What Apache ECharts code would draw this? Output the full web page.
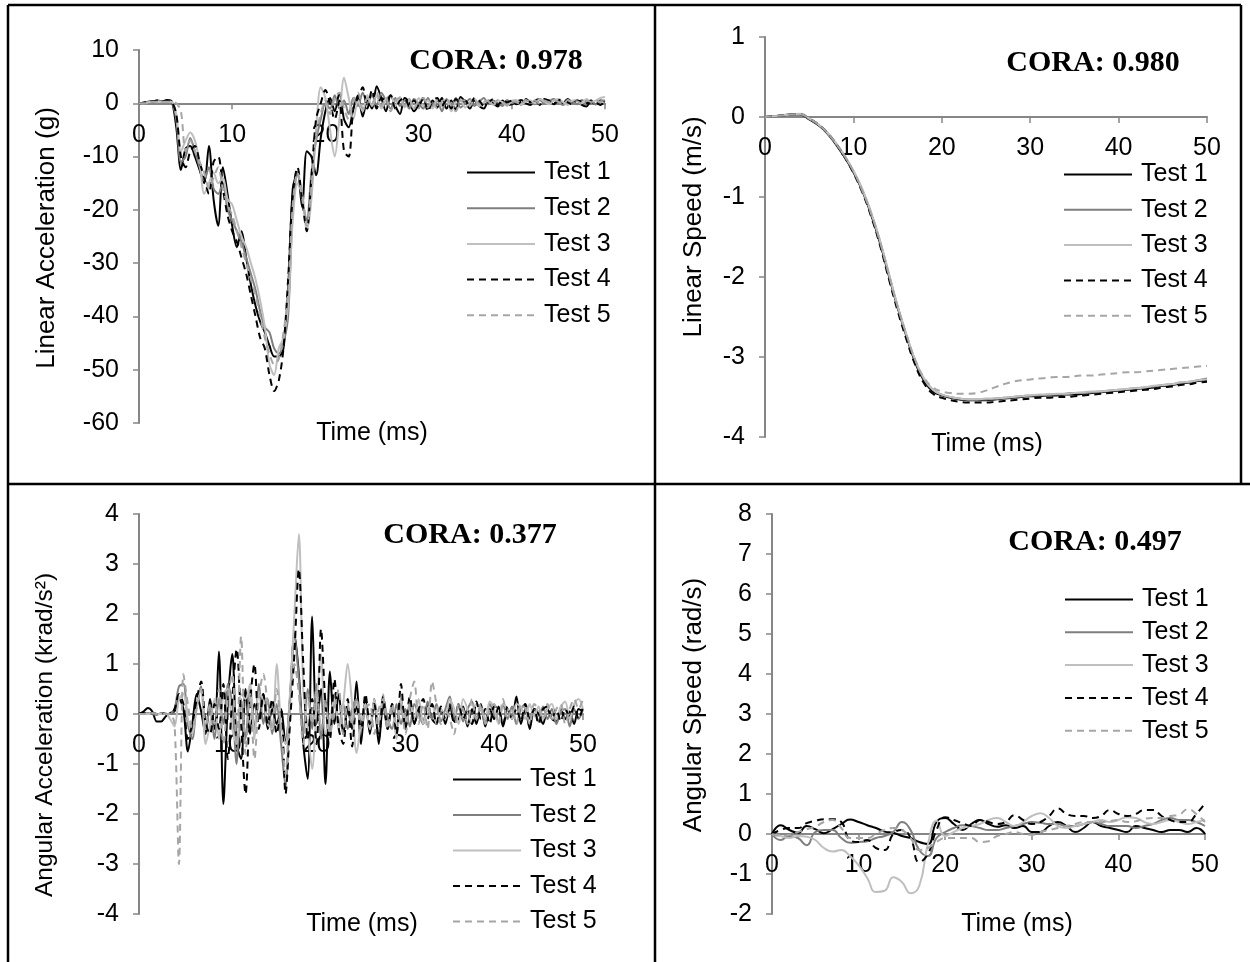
<!DOCTYPE html>
<html><head><meta charset="utf-8">
<script src="https://cdn.jsdelivr.net/npm/echarts@6/dist/echarts.min.js"></script>
<style>html,body{margin:0;padding:0;background:#fff}#c{width:1250px;height:962px}</style>
</head><body><div id="c"></div>
<script>
// ---------- data ----------
const SERIES_NAMES = ['Test 1', 'Test 2', 'Test 3', 'Test 4', 'Test 5'];
const X_TICKS = [0, 10, 20, 30, 40, 50];

// time axis, 0.5 ms step (accelerations)
const TIME_FINE = [
  0, 0.5, 1, 1.5, 2, 2.5, 3, 3.5, 4, 4.5,
  5, 5.5, 6, 6.5, 7, 7.5, 8, 8.5, 9, 9.5,
  10, 10.5, 11, 11.5, 12, 12.5, 13, 13.5, 14, 14.5,
  15, 15.5, 16, 16.5, 17, 17.5, 18, 18.5, 19, 19.5,
  20, 20.5, 21, 21.5, 22, 22.5, 23, 23.5, 24, 24.5,
  25, 25.5, 26, 26.5, 27, 27.5, 28, 28.5, 29, 29.5,
  30, 30.5, 31, 31.5, 32, 32.5, 33, 33.5, 34, 34.5,
  35, 35.5, 36, 36.5, 37, 37.5, 38, 38.5, 39, 39.5,
  40, 40.5, 41, 41.5, 42, 42.5, 43, 43.5, 44, 44.5,
  45, 45.5, 46, 46.5, 47, 47.5, 48, 48.5, 49, 49.5, 50
];
// time axis, 1 ms step (speeds)
const TIME_COARSE = [
  0, 1, 2, 3, 4, 5, 6, 7, 8, 9,
  10, 11, 12, 13, 14, 15, 16, 17, 18, 19,
  20, 21, 22, 23, 24, 25, 26, 27, 28, 29,
  30, 31, 32, 33, 34, 35, 36, 37, 38, 39,
  40, 41, 42, 43, 44, 45, 46, 47, 48, 49, 50
];

// Linear acceleration (g)
const LIN_ACC_T1 = [
  0, 0.1, 0.3, 0.4, 0.5, 0.4, 0.6, 0.4, -4.5, -12.5,
  -8.5, -8, -10, -12.5, -15, -8, -18, -23, -12, -17,
  -23, -27, -24, -29, -34, -38, -41, -43, -45.5, -47.5,
  -47.5, -46, -35, -16, -13, -19.5, -9, -10, -13.5, -6.5,
  -1.5, 1, -1.5, 2, -3, -4.5, -1, 1.5, -2.5, 0.5,
  -1, 3.2, 1, -1.5, 1.5, -0.5, -2, 1, 0.2, -1.5,
  -0.3, 1, -1, 0.5, -0.8, 1, -1, 0.5, -1.2, 1.2,
  0.3, -1, 0.5, -0.5, -1, 0.5, 0, -0.6, 0.5, -0.3,
  -0.2, 0.3, 0.6, 0, -0.3, 0.5, 0.8, 0.2, 0.5, -0.2,
  0.5, 0, 0.8, 0.2, 0.5, -0.3, -0.6, 0.3, -0.2, 0.5, 0.3
];
const LIN_ACC_T2 = [
  0, 0.1, 0.2, 0.3, 0.4, 0.3, 0.4, 0.2, -3, -11,
  -10, -6.5, -9, -12, -14.5, -12, -16, -17, -15, -20,
  -22, -24, -26, -29, -32, -35, -39, -42, -43, -46,
  -47, -45, -40, -20, -13, -18, -22, -13, -7, -3,
  0, -1, 1.5, -1, 0.5, -2, 1, -0.5, 2, 0,
  1.5, -0.5, 2, 0.5, -1, 1, -0.5, 0.5, -1, 0.8,
  0, -1, 1, -0.5, 0.5, -1.5, 0.8, -0.5, 1, -0.8,
  0, 0.8, -0.5, 0.3, 1, -0.2, 0.5, 0, -0.5, 0.6,
  0, 0.5, -0.3, 0.8, 0.2, -0.2, 0.6, 0, 0.4, 0.8,
  0.2, -0.3, 0.5, 0.3, -0.2, 0.6, 0.2, 0.5, -0.2, 0.4, 0.5
];
const LIN_ACC_T3 = [
  0, 0, 0.2, 0.3, 0.4, 0.3, 0.3, 0.3, -2, -9,
  -7, -5.5, -7, -11, -17, -15, -13, -15, -14, -18,
  -19, -22, -25, -27, -30, -33, -37, -42, -49, -51,
  -46, -44, -38, -22, -15, -17, -24, -18, -5, 3,
  1, -5, -10, -3, 4.8, 1, -3, 0.5, -1.5, 1.5,
  -0.5, 1.5, -1, 0.8, 1.5, -0.5, 1.2, -0.8, 0.5, -1,
  1, -0.5, 0.5, -1, 0.8, -0.5, 0.5, -1.5, 0.3, 0.5,
  -0.8, 0.3, 0.8, -0.5, 0.2, 0.5, -0.3, 0.5, 0.2, -0.5,
  0.4, 0.6, -0.2, 0.3, 0.5, 0, 0.8, 0.3, -0.2, 0.5,
  0.8, 0.2, -0.3, 0.5, 0.6, 0, 0.8, 0.3, 0.5, 1, 1.2
];
const LIN_ACC_T4 = [
  0, 0.1, 0.3, 0.4, 0.5, 0.4, 0.5, 0.3, -2, -10,
  -12, -9, -8, -11, -14, -17, -11, -10, -16, -21,
  -24, -26, -29, -32, -36, -40, -44, -46, -51, -54,
  -52, -46, -33, -17, -12, -18, -24, -14, -3, 0,
  2.5, 0, -3, 0.5, -9, -10, -1, 1, 3, -1,
  2.5, -1, 1, 0.5, 1.5, -1, 0.5, 1, -0.5, 0.5,
  -0.5, 1, -1.5, 0.5, 1, -0.5, 0.5, -1, 0.8, 0,
  0.5, -0.5, 1, 0.5, -0.5, 0.2, 0.8, -0.3, 0.5, 0.2,
  0.5, -0.2, 0.3, 0.8, 0.2, 0.5, -0.3, 0.8, 0.5, 0,
  0.5, 0.8, 0.2, -0.2, 0.5, 0.3, 0, 0.5, 0.2, -0.3, 0.4
];
const LIN_ACC_T5 = [
  0, 0, 0.2, 0.3, 0.3, 0.3, 0.3, 0.3, 0, -1.5,
  -9, -7, -9, -11, -13, -16, -14, -12, -16, -19,
  -21, -24, -27, -30, -33, -36, -40, -44, -47, -49,
  -48, -43, -36, -19, -13, -17, -23, -16, -6, -2,
  0.5, -2, 1, 2, -1, -3, 0.5, 2, -1, 1,
  0, 2, -0.5, 1, -1.5, 0.5, 1, -0.5, 0.8, -1,
  0.5, 1, -0.8, 0.5, -1, 0.3, 1, -0.5, -1.5, 0.5,
  0.5, -0.5, 0.8, -0.2, 0.5, 0.3, -0.5, 0.6, 0.2, -0.3,
  0.5, 0.2, -0.2, 0.6, 0.3, 0.5, -0.1, 0.5, 0.2, 0.6,
  0.3, -0.2, 0.6, 0.2, 0.4, -0.2, 0.5, 0.3, 0.6, 0.2, 0.8
];

// Linear speed (m/s)
const LIN_SPD_T1 = [
  0, 0.01, 0.02, 0.035, 0.03, -0.03, -0.1, -0.2, -0.34, -0.5,
  -0.69, -0.92, -1.22, -1.57, -1.98, -2.38, -2.74, -3.07, -3.3, -3.43,
  -3.48, -3.51, -3.53, -3.54, -3.54, -3.54, -3.53, -3.52, -3.51, -3.5,
  -3.49, -3.49, -3.48, -3.48, -3.47, -3.47, -3.46, -3.45, -3.44, -3.43,
  -3.42, -3.41, -3.4, -3.39, -3.38, -3.36, -3.35, -3.33, -3.32, -3.3, -3.29
];
const LIN_SPD_T2 = [
  0, 0.01, 0.02, 0.03, 0.03, -0.02, -0.09, -0.19, -0.33, -0.49,
  -0.68, -0.91, -1.2, -1.55, -1.96, -2.37, -2.73, -3.05, -3.28, -3.41,
  -3.47, -3.5, -3.52, -3.53, -3.53, -3.53, -3.52, -3.51, -3.5, -3.49,
  -3.48, -3.48, -3.47, -3.47, -3.46, -3.45, -3.45, -3.44, -3.43, -3.42,
  -3.41, -3.4, -3.39, -3.38, -3.37, -3.35, -3.34, -3.32, -3.31, -3.29, -3.27
];
const LIN_SPD_T3 = [
  0, 0.01, 0.02, 0.035, 0.04, -0.02, -0.09, -0.19, -0.32, -0.48,
  -0.67, -0.9, -1.19, -1.54, -1.95, -2.36, -2.72, -3.04, -3.27, -3.41,
  -3.47, -3.5, -3.52, -3.53, -3.53, -3.52, -3.52, -3.51, -3.5, -3.49,
  -3.48, -3.47, -3.47, -3.46, -3.46, -3.45, -3.44, -3.43, -3.43, -3.42,
  -3.41, -3.4, -3.39, -3.38, -3.36, -3.35, -3.34, -3.32, -3.31, -3.29, -3.28
];
const LIN_SPD_T4 = [
  0, 0.01, 0.02, 0.03, 0.03, -0.02, -0.09, -0.19, -0.33, -0.5,
  -0.7, -0.94, -1.24, -1.6, -2.02, -2.42, -2.78, -3.1, -3.33, -3.46,
  -3.51, -3.54, -3.56, -3.57, -3.57, -3.57, -3.56, -3.55, -3.54, -3.53,
  -3.52, -3.51, -3.51, -3.5, -3.5, -3.49, -3.48, -3.47, -3.46, -3.45,
  -3.44, -3.43, -3.42, -3.41, -3.4, -3.38, -3.37, -3.35, -3.34, -3.32, -3.31
];
const LIN_SPD_T5 = [
  0, 0.01, 0.02, 0.03, 0.03, -0.02, -0.09, -0.19, -0.33, -0.49,
  -0.68, -0.92, -1.21, -1.56, -1.97, -2.37, -2.72, -3.04, -3.26, -3.38,
  -3.43, -3.45, -3.46, -3.46, -3.45, -3.42, -3.38, -3.34, -3.31, -3.29,
  -3.28, -3.27, -3.26, -3.25, -3.25, -3.24, -3.23, -3.23, -3.22, -3.21,
  -3.2, -3.19, -3.19, -3.18, -3.17, -3.16, -3.15, -3.14, -3.13, -3.12, -3.11
];

// Angular acceleration (krad/s²)
const ANG_ACC_T1 = [
  0, 0.05, 0.12, 0.05, -0.15, -0.15, -0.05, 0.02, 0.05, 0.3,
  0.1, -0.75, -0.2, 0.4, 0.05, -0.4, 0.3, -0.3, 1.25, -1.8,
  0.2, 1.2, -0.6, -0.9, 0.5, -0.4, 0.2, -0.1, 0.4, -0.3,
  0.1, -0.2, 0.1, -0.6, 0.3, 1.6, 0.8, -0.6, -1.3, 1.95,
  -0.2, 0.5, -1.4, 0.85, -0.2, 0.4, -0.4, 0.1, -0.3, 0.65,
  -0.6, 0.3, -0.4, 0.3, -0.6, 0.2, -0.3, 0.2, -0.4, 0.3,
  -0.3, 0.2, -0.2, 0.1, -0.2, 0.2, -0.1, -0.2, 0.1, -0.2,
  0.2, -0.15, -0.1, 0.15, -0.25, 0.1, -0.2, 0.2, -0.25, 0.1,
  -0.1, 0.15, -0.25, 0.1, -0.1, 0.35, -0.2, 0.1, -0.3, 0.1,
  0, -0.2, 0.1, -0.1, -0.15, 0.1, -0.1, 0.05, -0.2, 0.1, 0.05
];
const ANG_ACC_T2 = [
  0, 0, 0.02, 0, -0.02, 0.02, 0, 0, 0.1, 0.55,
  0.6, -0.2, -0.5, 0.2, 0.55, -0.3, 0.1, -0.5, 0.3, -0.2,
  0.6, 0.2, -1.0, 0.3, -0.5, 0.5, -0.3, 0.6, -0.2, 0.3,
  -0.4, 0.2, -0.6, -1.45, 0.2, 1.6, 0.7, -0.4, 0.5, -0.3,
  0.6, -0.5, 0.3, -0.4, 0.4, -0.3, 0.2, -0.3, 0.1, 0.3,
  -0.2, 0.2, -0.3, 0.15, -0.2, 0.3, -0.1, -0.3, 0.2, -0.2,
  0.1, -0.25, 0.2, 0, -0.2, 0.25, -0.1, 0.2, -0.15, 0.1,
  0.35, -0.1, 0.2, -0.15, 0.1, 0.25, -0.1, 0.15, -0.2, 0.2,
  0, -0.15, 0.2, -0.1, 0.15, -0.2, 0.1, 0.2, -0.1, 0.1,
  -0.15, 0.15, -0.1, 0.1, -0.2, 0.05, 0.1, -0.25, 0.1, -0.1, 0.1
];
const ANG_ACC_T3 = [
  0, 0, 0, 0.02, 0, 0, 0.02, -0.1, -0.25, 0.3,
  0.4, -0.1, -0.4, 0.2, 0.5, -0.6, -0.2, 0.3, -0.5, 0.4,
  0.5, -0.3, -0.6, 0.4, 0.3, 0.6, -0.5, 0.4, 0.3, -0.2,
  -0.3, 1.0, -0.2, -0.6, 0.4, 2.0, 3.6, 0.5, -0.3, -1.1,
  0.2, 1.2, -0.4, -0.1, 0.3, -0.3, 0.2, 1.0, 0.2, -0.78,
  -0.2, 0.2, -0.3, 0.3, -0.2, 0.4, -0.3, 0.2, -0.5, 0.3,
  -0.2, 0.2, -0.1, 0.3, -0.2, 0.1, 0.2, -0.2, 0.1, -0.1,
  0.3, 0.1, -0.2, 0.3, 0.1, -0.2, 0.2, 0.1, -0.1, 0.25,
  0.1, -0.2, 0.2, 0.1, -0.1, 0.2, 0.15, -0.1, 0.2, -0.05,
  0.15, -0.1, 0.1, 0.2, -0.1, 0.15, 0.25, -0.1, 0.2, 0.3, 0.1
];
const ANG_ACC_T4 = [
  0, 0.02, 0, 0.02, 0, 0.02, 0, 0, 0.1, 0.4,
  0.2, -0.5, -0.2, 0.3, 0.65, -0.2, -0.4, 0.2, -0.3, 0.6,
  -0.9, 0.3, 1.3, -0.2, -1.6, 0.2, 1.0, -0.3, 0.4, -0.2,
  0.3, -0.4, 0.1, -1.6, -0.2, 1.2, 2.9, 1.0, -0.5, 0.3,
  -0.6, 1.7, 0.2, -0.5, 0.7, -0.3, -0.6, 0.3, -0.65, 0.2,
  -0.3, 0.4, -0.2, 0.2, -0.5, 0.35, -0.3, 0.2, -0.4, 0.6,
  -0.3, 0.35, -0.2, 0.1, 0.3, -0.1, 0.2, -0.2, 0.15, -0.1,
  0.1, -0.2, 0.2, -0.1, 0.1, -0.2, 0.25, -0.1, 0.1, -0.2,
  0.15, 0.1, -0.2, 0.15, -0.1, 0.1, -0.15, 0.2, -0.1, 0.1,
  -0.2, 0.1, 0.15, -0.1, 0.1, -0.15, 0.1, -0.05, 0.15, -0.1, 0.15
];
const ANG_ACC_T5 = [
  0, 0, 0, 0.02, 0, 0, 0, 0, -0.2, -3.0,
  0.8, 0.2, -0.3, 0.1, 0.5, -0.3, 0.2, -0.2, 0.5, -0.6,
  0.3, 0.8, -0.6, 1.55, -0.8, 0.4, -0.9, 0.3, 0.8, 0.2,
  -0.3, 0.5, -0.3, -1.2, 0.3, 1.0, 0.4, -0.6, 0.4, -0.2,
  0.5, -0.3, 0.2, -0.4, 0.1, 0.5, -0.4, 0.2, -0.2, 0.3,
  -0.3, 0.1, 0.2, -0.4, 0.1, 0.3, -0.3, 0.2, -0.2, 0.1,
  -0.4, 0.3, 0.65, -0.2, 0.2, -0.3, 0.65, 0.2, -0.2, 0.1,
  -0.1, -0.4, 0.2, 0.1, -0.2, 0.3, -0.1, 0.2, -0.2, 0.1,
  0.2, -0.2, 0.3, -0.1, 0.1, -0.2, 0.2, 0.1, -0.2, 0.2,
  0.1, -0.1, 0.2, -0.1, 0.1, 0.2, -0.2, 0.1, 0.3, 0.1, 0.3
];

// Angular speed (rad/s)
const ANG_SPD_T1 = [
  0, 0.22, 0.1, 0.03, 0.2, 0.12, 0.02, 0.12, 0.25, 0.36,
  0.3, 0.22, 0.15, 0.06, 0.03, -0.05, -0.1, -0.2, -0.25, 0.3,
  0.4, 0.25, 0.1, 0.25, 0.35, 0.25, 0.18, 0.22, 0.15, 0.2,
  0.05, 0.05, 0.2, 0.3, 0.2, 0.05, 0.15, 0.3, 0.2, 0.15,
  0.1, 0.05, 0.2, 0.15, 0.1, 0.05, 0.1, 0.1, 0.05, 0.15, 0
];
const ANG_SPD_T2 = [
  0, -0.15, -0.05, -0.1, -0.28, 0.05, 0.1, 0.1, -0.1, -0.22,
  -0.2, -0.18, -0.1, -0.05, 0.05, 0.3, 0.1, -0.4, -0.55, -0.1,
  0.05, 0.15, 0.22, 0.2, 0.15, 0.1, 0.1, 0.15, 0.2, 0.25,
  0.3, 0.28, 0.25, 0.25, 0.2, 0.2, 0.25, 0.3, 0.25, 0.2,
  0.2, 0.2, 0.15, 0.2, 0.25, 0.35, 0.4, 0.35, 0.35, 0.3, 0.2
];
const ANG_SPD_T3 = [
  0, -0.05, -0.1, -0.05, -0.07, -0.15, -0.35, -0.44, -0.4, -0.55,
  -0.78, -1.1, -1.45, -1.42, -1.08, -1.2, -1.48, -1.3, -0.25, 0.33,
  -0.05, 0.05, 0.15, 0.2, 0.25, 0.35, 0.4, 0.3, 0.2, 0.3,
  0.45, 0.52, 0.4, 0.2, 0.15, 0.2, 0.25, 0.3, 0.35, 0.3,
  0.35, 0.42, 0.4, 0.3, 0.25, 0.3, 0.35, 0.3, 0.25, 0.3, 0.35
];
const ANG_SPD_T4 = [
  0, 0.1, 0.15, 0.15, 0.27, 0.33, 0.37, 0.37, 0.3, -0.15,
  -0.2, -0.15, -0.35, -0.4, 0, 0.1, -0.1, -0.7, -0.5, 0.1,
  0.42, 0.35, 0.27, 0.2, 0.35, 0.3, 0.25, 0.3, 0.47, 0.35,
  0.25, 0.3, 0.45, 0.64, 0.5, 0.45, 0.45, 0.4, 0.45, 0.6,
  0.5, 0.45, 0.5, 0.6, 0.6, 0.45, 0.35, 0.3, 0.3, 0.5, 0.77
];
const ANG_SPD_T5 = [
  0, -0.05, -0.02, 0.05, 0.12, 0.18, 0.3, 0.35, 0.15, -0.1,
  -0.1, -0.1, 0, 0.1, 0.15, 0.1, -0.1, -0.4, -0.35, -0.2,
  -0.1, -0.1, -0.1, -0.1, -0.2, -0.18, -0.05, 0, 0.05, 0,
  -0.02, 0.05, 0.1, 0.15, 0.2, 0.25, 0.3, 0.3, 0.3, 0.32,
  0.35, 0.3, 0.32, 0.38, 0.4, 0.4, 0.45, 0.48, 0.62, 0.5, 0.3
];

// ---------- styling ----------
const SERIES_STYLE = [
  { color: '#000000', type: 'solid' },
  { color: '#7f7f7f', type: 'solid' },
  { color: '#bfbfbf', type: 'solid' },
  { color: '#000000', type: [7, 5] },
  { color: '#a6a6a6', type: [7, 5] }
];
const AXIS_COLOR = '#868686';
const FONT = 'Liberation Sans, Arial, sans-serif';
const SERIF = 'Liberation Serif, Times New Roman, serif';
const FS = 25;

const panels = [
  { grid: { left: 139, top: 50, width: 466, height: 373 }, y: [-60, 10, 10], time: TIME_FINE,
    data: [LIN_ACC_T1, LIN_ACC_T2, LIN_ACC_T3, LIN_ACC_T4, LIN_ACC_T5], smooth: 0.3,
    legend: { left: 466, top: 160, gap: 10.7 }, yTitle: 'Linear Acceleration (g)', yTitleFs: 26, yTitlePos: [47, 238],
    xTitlePos: [372, 433], cora: 'CORA: 0.978', coraPos: [496, 61] },
  { grid: { left: 765, top: 37, width: 442, height: 400 }, y: [-4, 1, 1], time: TIME_COARSE,
    data: [LIN_SPD_T1, LIN_SPD_T2, LIN_SPD_T3, LIN_SPD_T4, LIN_SPD_T5], smooth: true,
    legend: { left: 1063, top: 162, gap: 10.3 }, yTitle: 'Linear Speed (m/s)', yTitleFs: 26, yTitlePos: [694, 227],
    xTitlePos: [987, 444], cora: 'CORA: 0.980', coraPos: [1093, 63] },
  { grid: { left: 139, top: 514, width: 444, height: 400 }, y: [-4, 4, 1], time: TIME_FINE,
    data: [ANG_ACC_T1, ANG_ACC_T2, ANG_ACC_T3, ANG_ACC_T4, ANG_ACC_T5], smooth: 0.3,
    legend: { left: 452, top: 767, gap: 10.5 }, yTitle: 'Angular Acceleration (krad/s²)', yTitleFs: 24.5, yTitlePos: [45, 735],
    xTitlePos: [362, 924], cora: 'CORA: 0.377', coraPos: [470, 535] },
  { grid: { left: 772, top: 514, width: 433, height: 400 }, y: [-2, 8, 1], time: TIME_COARSE,
    data: [ANG_SPD_T1, ANG_SPD_T2, ANG_SPD_T3, ANG_SPD_T4, ANG_SPD_T5], smooth: true,
    legend: { left: 1064, top: 587, gap: 7.8 }, yTitle: 'Angular Speed (rad/s)', yTitleFs: 26, yTitlePos: [694, 705],
    xTitlePos: [1017, 924], cora: 'CORA: 0.497', coraPos: [1095, 542] }
];

const grid = [], xAxis = [], yAxis = [], series = [], legend = [], graphic = [];

panels.forEach((p, gi) => {
  grid.push(Object.assign({ containLabel: false }, p.grid));
  xAxis.push({
    type: 'value', gridIndex: gi, position: 'bottom', min: X_TICKS[0], max: X_TICKS[X_TICKS.length - 1],
    interval: X_TICKS[1] - X_TICKS[0],
    axisLine: { onZero: false, lineStyle: { color: AXIS_COLOR, width: 2 } },
    axisTick: { show: true, inside: false, length: 6, lineStyle: { color: AXIS_COLOR, width: 1.5 } },
    axisLabel: { color: '#000', fontSize: FS, fontFamily: FONT, margin: 19 },
    splitLine: { show: false }
  });
  yAxis.push({
    type: 'value', gridIndex: gi, min: p.y[0], max: p.y[1], interval: p.y[2],
    axisLine: { show: true, onZero: false, lineStyle: { color: AXIS_COLOR, width: 2 } },
    axisTick: { show: true, inside: false, length: 6, lineStyle: { color: AXIS_COLOR, width: 1.5 } },
    axisLabel: { color: '#000', fontSize: FS, fontFamily: FONT, margin: 20 },
    splitLine: { show: false }
  });
  p.data.forEach((vals, si) => {
    series.push({
      name: SERIES_NAMES[si], type: 'line', xAxisIndex: gi, yAxisIndex: gi,
      symbol: 'none', smooth: p.smooth, animation: false, silent: true,
      lineStyle: { color: SERIES_STYLE[si].color, type: SERIES_STYLE[si].type, width: 2 },
      itemStyle: { color: SERIES_STYLE[si].color },
      data: p.time.map((t, i) => [t, vals[i]])
    });
  });
  legend.push({
    orient: 'vertical', left: p.legend.left, top: p.legend.top, padding: 0,
    itemWidth: 68, itemHeight: 12, itemGap: p.legend.gap,
    selectedMode: false,
    itemStyle: { opacity: 0 },
    textStyle: { fontSize: FS, fontFamily: FONT, color: '#000', padding: [0, 0, 0, 4] },
    data: SERIES_NAMES.slice()
  });
  graphic.push({
    type: 'text', x: p.yTitlePos[0], y: p.yTitlePos[1], rotation: Math.PI / 2,
    style: { text: p.yTitle, font: p.yTitleFs + 'px ' + FONT, fill: '#000', align: 'center', verticalAlign: 'middle' }
  });
  graphic.push({
    type: 'text', x: p.xTitlePos[0], y: p.xTitlePos[1],
    style: { text: 'Time (ms)', font: FS + 'px ' + FONT, fill: '#000', align: 'center', verticalAlign: 'middle' }
  });
  graphic.push({
    type: 'text', x: p.coraPos[0], y: p.coraPos[1],
    style: { text: p.cora, font: 'bold 30px ' + SERIF, fill: '#000', align: 'center', verticalAlign: 'middle' }
  });
});

// panel frame lines
const FRAME = [
  [8, 5, 1241, 5], [8, 5, 8, 962], [1241, 5, 1241, 484],
  [655, 5, 655, 962], [8, 484, 1250, 484]
];
FRAME.forEach(s => graphic.push({
  type: 'line', shape: { x1: s[0], y1: s[1], x2: s[2], y2: s[3] },
  style: { stroke: '#000', lineWidth: 2.5 }, silent: true
}));

const chart = echarts.init(document.getElementById('c'), null, { renderer: 'canvas' });
chart.setOption({
  backgroundColor: '#fff', animation: false,
  grid, xAxis, yAxis, series, legend, graphic
});

// move each time axis (line, ticks, labels) onto the y = 0 level, using the chart's own scale
const xFix = panels.map((p, gi) => {
  const zeroY = chart.convertToPixel({ gridIndex: gi }, [0, 0])[1];
  return { offset: zeroY - (p.grid.top + p.grid.height) };
});
chart.setOption({ xAxis: xFix });
</script></body></html>
